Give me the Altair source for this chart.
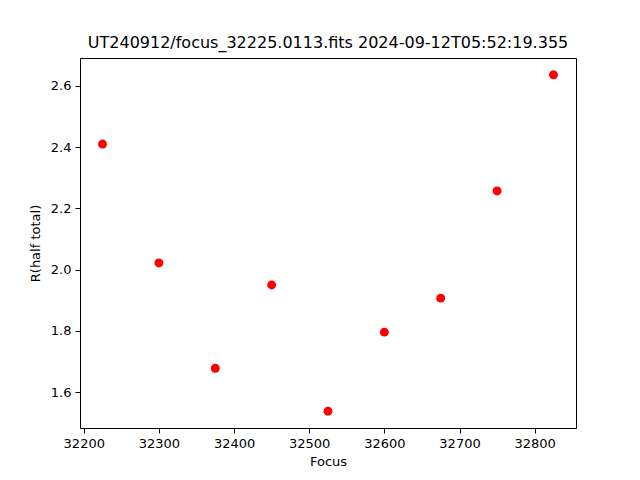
import altair as alt
import pandas as pd

focus = [32225, 32300, 32375, 32450, 32525, 32600, 32675, 32750, 32825]
r_half = [2.410, 2.022, 1.678, 1.950, 1.538, 1.796, 1.907, 2.257, 2.636]

df = pd.DataFrame({"Focus": focus, "R": r_half})

font = "DejaVu Sans"

chart = alt.Chart(df).mark_point(filled=True, size=80, color="#ff0000", opacity=1).encode(
    x=alt.X("Focus:Q", scale=alt.Scale(domain=[32195, 32855], nice=False, zero=False),
            axis=alt.Axis(title="Focus", values=[32200, 32300, 32400, 32500, 32600, 32700, 32800],
                          format="d", grid=False, tickSize=5, tickColor="black", domainColor="black",
                          labelFontSize=13, titleFontSize=13, labelFont=font, titleFont=font,
                          labelColor="black", titleColor="black", titleFontWeight="normal",
                          labelPadding=4, titlePadding=5)),
    y=alt.Y("R:Q", scale=alt.Scale(domain=[1.483, 2.691], nice=False, zero=False),
            axis=alt.Axis(title="R(half total)", values=[1.6, 1.8, 2.0, 2.2, 2.4, 2.6],
                          format=".1f", grid=False, tickSize=5, tickColor="black", domainColor="black",
                          labelFontSize=13, titleFontSize=13, labelFont=font, titleFont=font,
                          labelColor="black", titleColor="black", titleFontWeight="normal",
                          labelPadding=4, titlePadding=8)),
).properties(
    width=496,
    height=370,
    background="white",
    title=alt.TitleParams("UT240912/focus_32225.0113.fits 2024-09-12T05:52:19.355",
                          fontSize=16, font=font, fontWeight="normal", color="black",
                          anchor="middle", offset=7),
    autosize=alt.AutoSizeParams(type="none"),
    padding={"left": 72, "top": 50, "right": 56, "bottom": 45},
).configure_view(stroke="black", strokeWidth=1)

chart.save("out.html", embed_options={"renderer": "svg", "actions": False})
